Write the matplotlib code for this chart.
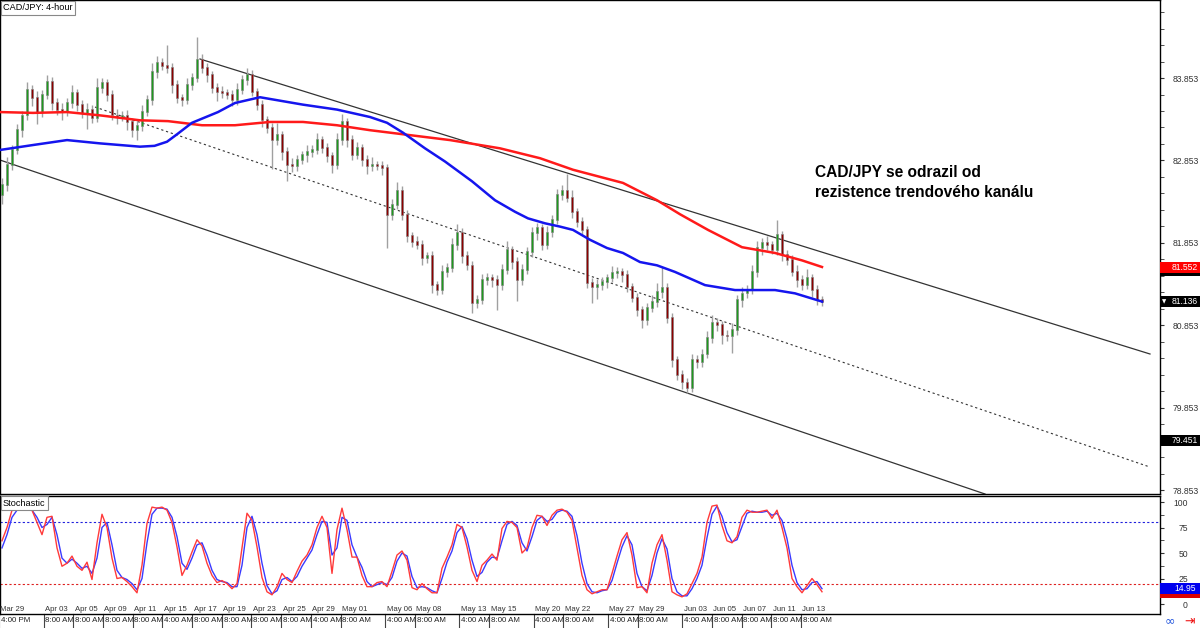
import numpy as np
import pandas as pd
import matplotlib
matplotlib.use('Agg')
import matplotlib.pyplot as plt
from matplotlib import transforms
from matplotlib.patches import Rectangle

plt.rcParams['font.family'] = ['Liberation Sans', 'DejaVu Sans']

# CAD/JPY candles (about 3 per trading day)
first_open = 82.43
closes = [
    82.56, 82.80, 82.98, 83.22, 83.40, 83.71, 83.61, 83.44, 83.65, 83.81,
    83.55, 83.47, 83.44, 83.55, 83.67, 83.53, 83.43, 83.47, 83.37, 83.73,
    83.79, 83.65, 83.40, 83.38, 83.40, 83.32, 83.22, 83.27, 83.44, 83.59,
    83.93, 84.04, 84.00, 83.98, 83.77, 83.61, 83.59, 83.77, 83.85, 84.07,
    83.98, 83.89, 83.73, 83.68, 83.67, 83.65, 83.59, 83.71, 83.83, 83.89,
    83.68, 83.53, 83.34, 83.25, 83.10, 83.16, 82.96, 82.80, 82.79, 82.86,
    82.92, 82.96, 82.98, 83.10, 83.00, 82.91, 82.80, 83.10, 83.32, 83.10,
    82.92, 83.00, 82.86, 82.79, 82.80, 82.79, 82.76, 82.19, 82.31, 82.49,
    82.19, 81.94, 81.86, 81.83, 81.67, 81.69, 81.34, 81.28, 81.50, 81.55,
    81.83, 81.98, 81.69, 81.58, 81.12, 81.16, 81.40, 81.43, 81.40, 81.34,
    81.52, 81.77, 81.62, 81.40, 81.52, 81.74, 81.97, 82.03, 81.83, 81.98,
    82.13, 82.43, 82.49, 82.40, 82.23, 82.11, 82.01, 81.37, 81.32, 81.34,
    81.38, 81.43, 81.49, 81.50, 81.46, 81.32, 81.18, 81.04, 80.92, 81.06,
    81.14, 81.26, 81.31, 80.94, 80.43, 80.25, 80.16, 80.09, 80.43, 80.41,
    80.50, 80.70, 80.88, 80.86, 80.73, 80.72, 80.80, 81.16, 81.24, 81.28,
    81.50, 81.79, 81.85, 81.83, 81.77, 81.95, 81.71, 81.65, 81.50, 81.40,
    81.34, 81.43, 81.28, 81.16, 81.14]
upper_wick = [
    0.08, 0.10, 0.06, 0.08, 0.05, 0.10, 0.06, 0.08, 0.06, 0.08,
    0.05, 0.06, 0.08, 0.06, 0.10, 0.05, 0.06, 0.08, 0.05, 0.12,
    0.06, 0.05, 0.06, 0.08, 0.05, 0.06, 0.05, 0.06, 0.08, 0.06,
    0.10, 0.08, 0.06, 0.25, 0.05, 0.06, 0.05, 0.08, 0.06, 0.28,
    0.08, 0.06, 0.05, 0.06, 0.08, 0.05, 0.06, 0.08, 0.06, 0.08,
    0.06, 0.05, 0.06, 0.05, 0.06, 0.15, 0.05, 0.06, 0.08, 0.06,
    0.05, 0.08, 0.06, 0.08, 0.05, 0.06, 0.05, 0.08, 0.10, 0.05,
    0.06, 0.08, 0.05, 0.06, 0.10, 0.05, 0.06, 0.05, 0.08, 0.10,
    0.05, 0.06, 0.05, 0.08, 0.06, 0.05, 0.06, 0.05, 0.08, 0.06,
    0.08, 0.10, 0.05, 0.06, 0.05, 0.06, 0.08, 0.06, 0.05, 0.06,
    0.08, 0.10, 0.05, 0.06, 0.08, 0.06, 0.08, 0.06, 0.05, 0.08,
    0.06, 0.08, 0.06, 0.20, 0.10, 0.05, 0.06, 0.05, 0.06, 0.08,
    0.06, 0.05, 0.08, 0.06, 0.05, 0.06, 0.05, 0.06, 0.05, 0.06,
    0.08, 0.10, 0.25, 0.05, 0.06, 0.05, 0.06, 0.05, 0.08, 0.06,
    0.06, 0.08, 0.10, 0.06, 0.05, 0.06, 0.08, 0.06, 0.08, 0.06,
    0.08, 0.08, 0.06, 0.08, 0.05, 0.18, 0.05, 0.06, 0.05, 0.08,
    0.06, 0.10, 0.05, 0.06, 0.05]
lower_wick = [
    0.10, 0.08, 0.06, 0.05, 0.08, 0.06, 0.10, 0.15, 0.06, 0.05,
    0.08, 0.06, 0.10, 0.05, 0.06, 0.08, 0.06, 0.20, 0.06, 0.05,
    0.06, 0.08, 0.06, 0.08, 0.05, 0.10, 0.08, 0.12, 0.06, 0.05,
    0.06, 0.08, 0.05, 0.06, 0.10, 0.06, 0.08, 0.05, 0.06, 0.05,
    0.06, 0.08, 0.06, 0.10, 0.06, 0.05, 0.08, 0.06, 0.05, 0.06,
    0.05, 0.06, 0.08, 0.06, 0.35, 0.06, 0.10, 0.20, 0.08, 0.06,
    0.05, 0.08, 0.06, 0.05, 0.06, 0.08, 0.10, 0.05, 0.06, 0.08,
    0.06, 0.05, 0.08, 0.10, 0.06, 0.05, 0.08, 0.40, 0.06, 0.05,
    0.06, 0.08, 0.06, 0.05, 0.08, 0.06, 0.10, 0.06, 0.05, 0.06,
    0.05, 0.06, 0.08, 0.06, 0.12, 0.06, 0.05, 0.06, 0.08, 0.30,
    0.06, 0.05, 0.08, 0.25, 0.06, 0.05, 0.06, 0.08, 0.06, 0.05,
    0.06, 0.05, 0.06, 0.05, 0.08, 0.06, 0.05, 0.06, 0.20, 0.15,
    0.06, 0.08, 0.05, 0.06, 0.08, 0.06, 0.05, 0.08, 0.10, 0.06,
    0.05, 0.06, 0.08, 0.06, 0.08, 0.06, 0.08, 0.06, 0.05, 0.08,
    0.06, 0.05, 0.06, 0.08, 0.10, 0.06, 0.20, 0.06, 0.08, 0.06,
    0.05, 0.06, 0.08, 0.06, 0.05, 0.06, 0.08, 0.06, 0.05, 0.08,
    0.06, 0.05, 0.08, 0.06, 0.05]

# stochastic %K (red) and %D (blue)
stoch_k = [
    62, 75, 92, 93, 92, 93, 92, 80, 68, 85, 86, 55, 37, 40, 47, 37, 33, 41, 24, 60,
    88, 75, 45, 25, 26, 22, 17, 11, 38, 79, 95, 94, 95, 92, 80, 56, 28, 38, 51, 63,
    57, 40, 28, 21, 23, 20, 15, 20, 55, 89, 82, 56, 26, 12, 9, 17, 30, 24, 21, 32,
    42, 48, 58, 75, 86, 75, 30, 73, 94, 73, 46, 46, 28, 17, 17, 21, 22, 17, 32, 48,
    52, 43, 16, 14, 20, 15, 11, 11, 35, 46, 58, 78, 75, 56, 33, 22, 38, 43, 49, 43,
    74, 81, 80, 75, 50, 55, 75, 87, 86, 77, 87, 92, 93, 90, 82, 55, 28, 14, 10, 12,
    14, 14, 30, 47, 63, 70, 48, 16, 17, 11, 40, 58, 68, 43, 12, 9, 7, 10, 20, 30,
    46, 80, 96, 97, 77, 62, 60, 66, 85, 92, 90, 90, 91, 92, 84, 92, 75, 55, 25, 17,
    11, 18, 25, 19, 12]
stoch_d = [
    55, 68, 85, 92, 92, 92, 92, 85, 75, 78, 85, 68, 45, 40, 44, 40, 35, 37, 30, 45,
    75, 80, 58, 33, 26, 24, 20, 14, 25, 60, 88, 94, 94, 93, 85, 66, 40, 34, 45, 58,
    60, 48, 33, 24, 22, 21, 17, 17, 38, 75, 86, 68, 40, 18, 10, 13, 24, 26, 22, 27,
    37, 45, 53, 68, 81, 80, 48, 55, 85, 82, 58, 46, 36, 22, 17, 19, 21, 19, 26, 42,
    50, 47, 27, 16, 17, 16, 13, 11, 25, 41, 52, 70, 76, 64, 43, 27, 31, 41, 46, 45,
    62, 78, 81, 77, 60, 52, 66, 82, 86, 81, 83, 90, 92, 91, 86, 67, 40, 20, 12, 11,
    13, 14, 23, 40, 56, 67, 58, 30, 17, 13, 28, 50, 64, 54, 25, 12, 8, 8, 15, 25,
    38, 65, 88, 96, 86, 70, 61, 63, 76, 89, 91, 90, 90, 91, 87, 89, 82, 64, 38, 21,
    14, 15, 21, 22, 15]

# moving averages, sampled along the drawn curves (candle index, price)
ma_blue_idx = [-0.4, 6.2, 13, 19.6, 27.6, 30.5, 33.0, 35.0, 38, 43.2, 46.6, 51.6, 60.2,
               67, 73.6, 77, 80.2, 84.6, 88.6, 94, 98.6, 102.6, 105.2, 108.6, 111.6,
               114.2, 117.6, 121, 124.2, 127.6, 131, 134.6, 140.6, 146.6, 154.6, 158.6, 164]
ma_blue = [82.98, 83.04, 83.10, 83.06, 83.02, 83.03, 83.08, 83.17, 83.31, 83.44, 83.55, 83.62,
           83.53, 83.47, 83.38, 83.31, 83.19, 83.00, 82.84, 82.60, 82.37, 82.23, 82.15, 82.09,
           82.05, 82.01, 81.89, 81.79, 81.73, 81.62, 81.58, 81.50, 81.34, 81.28, 81.28, 81.24,
           81.14]
ma_red_idx = [-0.4, 6.2, 13, 19.6, 27.6, 33.2, 40, 46.6, 53.6, 60.2, 67, 73.6, 81.6,
              89.6, 99.6, 107.6, 114.2, 124.2, 131, 135.6, 141.2, 148, 154.6, 160, 164]
ma_red = [83.44, 83.43, 83.44, 83.40, 83.34, 83.33, 83.28, 83.28, 83.32, 83.32, 83.28, 83.22, 83.16,
          83.10, 83.00, 82.88, 82.74, 82.58, 82.37, 82.20, 82.01, 81.80, 81.73, 81.64, 81.56]

# trend channel end points (candle index, price)
upper_x, upper_y = [39.6, 229.6], [84.084, 80.504]
mid_x, mid_y = [18.6, 229.6], [83.501, 79.132]
lower_x, lower_y = [-0.4, 196.6], [82.858, 78.805]

# time axis
tick_dates = ['2019-03-29', '2019-04-03', '2019-04-05', '2019-04-09', '2019-04-11',
              '2019-04-15', '2019-04-17', '2019-04-19', '2019-04-23', '2019-04-25',
              '2019-04-29', '2019-05-01', '2019-05-06', '2019-05-08', '2019-05-13',
              '2019-05-15', '2019-05-20', '2019-05-22', '2019-05-27', '2019-05-29',
              '2019-06-03', '2019-06-05', '2019-06-07', '2019-06-11', '2019-06-13']
tick_times = ['4:00 PM', '8:00 AM', '8:00 AM', '8:00 AM', '8:00 AM', '4:00 AM', '8:00 AM',
              '8:00 AM', '8:00 AM', '8:00 AM', '4:00 AM', '8:00 AM', '4:00 AM', '8:00 AM',
              '4:00 AM', '8:00 AM', '4:00 AM', '8:00 AM', '4:00 AM', '8:00 AM', '4:00 AM',
              '8:00 AM', '8:00 AM', '8:00 AM', '8:00 AM']

price_ticks = [78.853, 79.853, 80.853, 81.853, 82.853, 83.853]

closes = np.array(closes)
opens = np.r_[first_open, closes[:-1]]
highs = np.maximum(opens, closes) + np.array(upper_wick)
lows = np.minimum(opens, closes) - np.array(lower_wick)
idx = np.arange(len(closes))

days = np.busday_count('2019-03-28', tick_dates)
tick_idx = (14.85 * (days - 1) - 3) / 5.0
tick_lab = pd.to_datetime(tick_dates).strftime('%b %d')

W, H = 1200, 628
fig = plt.figure(figsize=(12, 6.28), dpi=100)
fig.patch.set_facecolor('white')

ax = fig.add_axes([0, 1 - 494 / H, 1160 / W, 494 / H])
ax2 = fig.add_axes([0, 1 - 614 / H, 1160 / W, 118 / H])

# ---- price panel
ax.set_xlim(-0.4, 231.6)
ax.set_ylim(78.805, 84.80)

ax.plot(lower_x, lower_y, color='#333333', lw=0.9)
ax.plot(upper_x, upper_y, color='#333333', lw=0.9)
ax.plot(mid_x, mid_y, color='#333333', lw=0.8, ls=(0, (2, 2.5)))

ax.vlines(idx, lows, highs, color='#a0a0a0', lw=1.0, zorder=3)
up = closes >= opens
body_col = np.where(up, '#1e9a1e', '#8e0000')
ax.bar(idx, np.abs(closes - opens) + 0.01, bottom=np.minimum(opens, closes), width=0.5,
       color=body_col, edgecolor='#808080', linewidth=0.4, zorder=4)

ax.plot(ma_red_idx, ma_red, color='#ff1a1a', lw=1.8, zorder=5)
ax.plot(ma_blue_idx, ma_blue, color='#1515ee', lw=1.8, zorder=5)

ax.set_xticks([])
ax.yaxis.tick_right()
ax.set_yticks(price_ticks)
ax.set_yticks(np.arange(78.853, 84.8, 0.2), minor=True)
ax.tick_params(axis='y', which='both', direction='out', length=3, labelsize=6.2,
               pad=6, colors='#333333', labelcolor='#333333')
ax.tick_params(axis='y', which='both', left=True)
for s in ax.spines.values():
    s.set_color('black')
    s.set_linewidth(1)

ax.text(815 / 1160, 1 - 165 / 494, 'CAD/JPY se odrazil od\nrezistence trendového kanálu',
        transform=ax.transAxes, ha='left', va='top', fontsize=11.2, fontweight='bold',
        linespacing=1.45, color='black')

fig.text(3 / W, 1 - 8 / H, 'CAD/JPY: 4-hour', fontsize=6.6, va='center', ha='left',
         bbox=dict(boxstyle='square,pad=0.25', fc='white', ec='#888888', lw=0.8))

# price labels on the right scale
trans = transforms.blended_transform_factory(fig.transFigure, ax.transData)
hbox = 11 * (84.80 - 78.805) / 494


def price_box(value, text, face, y_shift=0.0):
    ax.add_patch(Rectangle((1160 / W, value - hbox / 2 + y_shift), 40 / W, hbox,
                           transform=trans, facecolor=face, edgecolor='none',
                           clip_on=False, zorder=10))
    ax.text(1172 / W, value + y_shift, text, transform=trans, color='white',
            fontsize=6.2, va='center', ha='left', clip_on=False, zorder=11)


ax.add_patch(Rectangle((1160 / W, 81.552 - hbox / 2 - 0.03), 40 / W, hbox,
                       transform=trans, facecolor='black', edgecolor='none',
                       clip_on=False, zorder=9))
price_box(81.552, '81.552', '#ff0000')
price_box(81.136, '81.136', 'black')
price_box(79.451, '79.451', 'black')
ax.text(1162 / W, 81.136, '▼', transform=trans, color='white', fontsize=4,
        va='center', ha='left', clip_on=False, zorder=12, family='DejaVu Sans')

# ---- stochastic panel
ax2.set_xlim(-0.4, 231.6)
ax2.set_ylim(-9.8, 105.9)
ax2.axhline(80, color='#2020dd', lw=0.8, ls=(0, (2, 2)))
ax2.axhline(20, color='#dd2020', lw=0.8, ls=(0, (2, 2)))
ax2.plot(idx, stoch_d, color='#3a3aff', lw=1.0)
ax2.plot(idx, stoch_k, color='#ff3a3a', lw=1.0)

ax2.set_xticks([])
ax2.yaxis.tick_right()
ax2.set_yticks([0, 25, 50, 75, 100])
ax2.set_yticks(np.arange(0, 101, 12.5), minor=True)
ax2.tick_params(axis='y', which='both', direction='out', length=3, labelsize=6.2,
                pad=17, colors='#333333', labelcolor='#333333')
for lab in ax2.get_yticklabels():
    lab.set_horizontalalignment('right')
for s in ax2.spines.values():
    s.set_color('black')
    s.set_linewidth(1)

fig.text(3 / W, 1 - 503 / H, 'Stochastic', fontsize=6.6, va='center', ha='left',
         bbox=dict(boxstyle='square,pad=0.25', fc='white', ec='#888888', lw=0.8))

trans2 = transforms.blended_transform_factory(fig.transFigure, ax2.transData)
hbox2 = 11 * 115.7 / 118
ax2.add_patch(Rectangle((1160 / W, 11 - hbox2 / 2), 40 / W, hbox2, transform=trans2,
                        facecolor='#dd0000', edgecolor='none', clip_on=False, zorder=9))
ax2.add_patch(Rectangle((1160 / W, 14.95 - hbox2 / 2), 40 / W, hbox2, transform=trans2,
                        facecolor='#0000ee', edgecolor='none', clip_on=False, zorder=10))
ax2.text(1174 / W, 14.95, '14.95', transform=trans2, color='white', fontsize=6.2,
         va='center', ha='left', clip_on=False, zorder=11)

# date labels and the time row underneath
for x, lab in zip(tick_idx, tick_lab):
    ax2.text(x + 0.3, -4.9, lab, fontsize=5.6, color='#333333', ha='left', va='center')

trans3 = transforms.blended_transform_factory(ax2.transData, fig.transFigure)
for x, lab in zip(tick_idx, tick_times):
    ax2.plot([x, x], [0, 14 / H], transform=trans3, color='#444444', lw=0.8, clip_on=False)
    ax2.text(x + 0.35, 1 - 621 / H, lab, transform=trans3, fontsize=5.7, color='#222222',
             ha='left', va='center', clip_on=False)

fig.text(1170 / W, 1 - 621 / H, '∞', color='#2255dd', fontsize=9, ha='center',
         va='center', family='DejaVu Sans')
fig.text(1190 / W, 1 - 621 / H, '⇥', color='#ee1111', fontsize=9, ha='center',
         va='center', family='DejaVu Sans')

fig.savefig('out.png', dpi=100, facecolor='white')
